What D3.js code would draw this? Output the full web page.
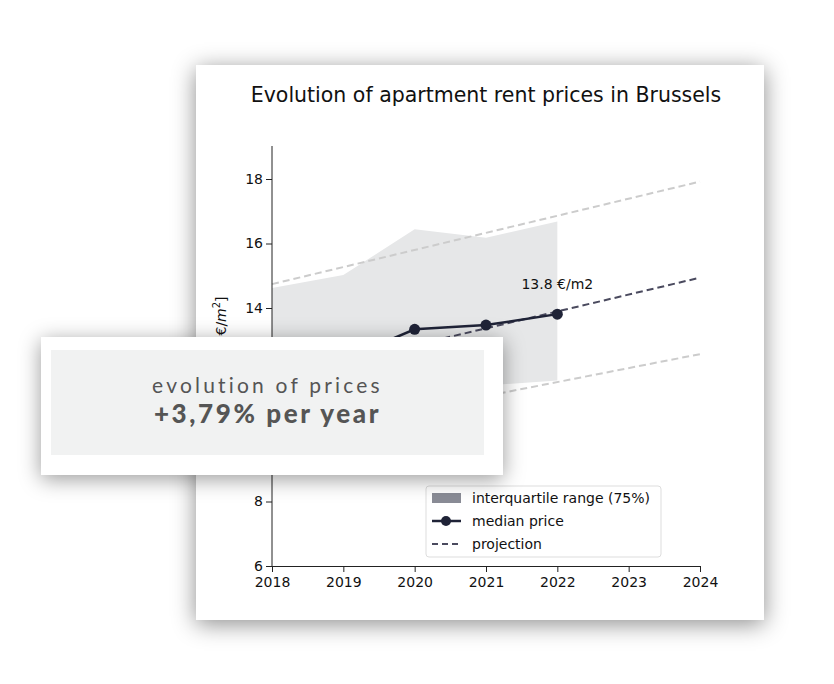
<!DOCTYPE html>
<html><head><meta charset="utf-8">
<script src="https://cdn.jsdelivr.net/npm/d3@7"></script>
<style>
body{margin:0;background:#fff;width:834px;height:684px;overflow:hidden;font-family:"DejaVu Sans",sans-serif}
#card{position:absolute;left:196px;top:65px;width:568px;height:555px;background:#fff;box-shadow:0 4px 22px rgba(0,0,0,0.45)}
#over{position:absolute;left:41px;top:337px;width:462px;height:138px;background:#fff;box-shadow:0 4px 20px rgba(0,0,0,0.4)}
#inner{position:absolute;left:10px;top:13px;width:433px;height:105px;background:#f1f2f2;text-align:center;color:#555;font-family:Lato,"Open Sans",sans-serif}
#l1{margin-top:22px;font-size:21px;letter-spacing:3.2px}
#l2{margin-top:0px;font-size:26px;font-weight:900;letter-spacing:2.6px}
svg{position:absolute;left:0;top:0}
</style></head><body>
<div id="card"></div>
<svg width="834" height="684"></svg>
<div id="over"><div id="inner"><div id="l1">evolution of prices</div><div id="l2">+3,79% per year</div></div></div>
<script>
const years=[2018,2019,2020,2021,2022];
const iqrUpper=[14.62,15.02,16.44,16.18,16.68];
const iqrLower=[10.9,11.1,11.4,11.6,11.75];
const median=[12.0,12.4,13.34,13.47,13.81];
const projYears=[2018,2024];
const projMedian=[11.8,14.94];
const projUpper=[14.74,17.92];
const projLower=[9.97,12.57];
const yTicks=[6,8,10,12,14,16,18];
const xTicks=[2018,2019,2020,2021,2022,2023,2024];

const svg=d3.select("svg");
const x=d3.scaleLinear().domain([2018,2024]).range([272,700]);
const y=d3.scaleLinear().domain([6,18]).range([566,179]);
svg.append("text").attr("x",486).attr("y",102).attr("text-anchor","middle").attr("font-size",20.5).attr("fill","#111").text("Evolution of apartment rent prices in Brussels");
svg.append("path").datum(years.map((d,i)=>[d,iqrLower[i],iqrUpper[i]]))
 .attr("d",d3.area().x(d=>x(d[0])).y0(d=>y(d[1])).y1(d=>y(d[2]))).attr("fill","#e6e7e8");
const line=d3.line().x(d=>x(d[0])).y(d=>y(d[1]));
[[projUpper,"#ccc"],[projLower,"#ccc"],[projMedian,"#4a4a5e"]].forEach(([v,c])=>{
 svg.append("path").datum(projYears.map((d,i)=>[d,v[i]])).attr("d",line).attr("fill","none").attr("stroke",c).attr("stroke-width",2).attr("stroke-dasharray","7,4");
});
svg.append("path").datum(years.map((d,i)=>[d,median[i]])).attr("d",line).attr("fill","none").attr("stroke","#1f2337").attr("stroke-width",2.5);
svg.selectAll(".pt").data(years).enter().append("circle").attr("cx",d=>x(d)).attr("cy",(d,i)=>y(median[i])).attr("r",5.5).attr("fill","#1f2337");
svg.append("text").attr("x",x(2022)).attr("y",y(14.6)).attr("text-anchor","middle").attr("font-size",14).attr("fill","#111").text("13.8 €/m2");
const xa=svg.append("g").attr("transform","translate(0,566)").call(d3.axisBottom(x).tickValues(xTicks).tickFormat(d3.format("d")).tickSizeOuter(0));
const ya=svg.append("g").attr("transform","translate(272,0)").call(d3.axisLeft(y).tickValues(yTicks).tickSizeOuter(0));
ya.select(".domain").attr("d","M0,566V146");
[xa,ya].forEach(a=>{a.selectAll("text").attr("font-size",14).attr("fill","#111").attr("font-family","DejaVu Sans");a.selectAll("line,path").attr("stroke","#222")});
xa.selectAll("text").attr("dy","0.85em");
svg.append("text").attr("transform","translate(226,338) rotate(-90)").attr("text-anchor","middle").attr("font-size",14).attr("fill","#111").html('Price [€/<tspan font-style="italic">m</tspan><tspan dy="-6" font-size="10">2</tspan><tspan dy="6">]</tspan>');
const lg=svg.append("g");
lg.append("rect").attr("x",426).attr("y",486).attr("width",235).attr("height",71).attr("rx",3).attr("fill","#fff").attr("stroke","#ddd");
lg.append("rect").attr("x",432).attr("y",493).attr("width",29).attr("height",10).attr("fill","#8a8c96");
lg.append("line").attr("x1",432).attr("x2",461).attr("y1",521).attr("y2",521).attr("stroke","#1f2337").attr("stroke-width",2.5);
lg.append("circle").attr("cx",446).attr("cy",521).attr("r",5).attr("fill","#1f2337");
lg.append("line").attr("x1",432).attr("x2",461).attr("y1",544).attr("y2",544).attr("stroke","#4a4a5e").attr("stroke-width",2).attr("stroke-dasharray","6,4");
[["interquartile range (75%)",503],["median price",526],["projection",549]].forEach(([t,yy])=>lg.append("text").attr("x",472).attr("y",yy).attr("font-size",14).attr("fill","#111").text(t));
</script></body></html>
